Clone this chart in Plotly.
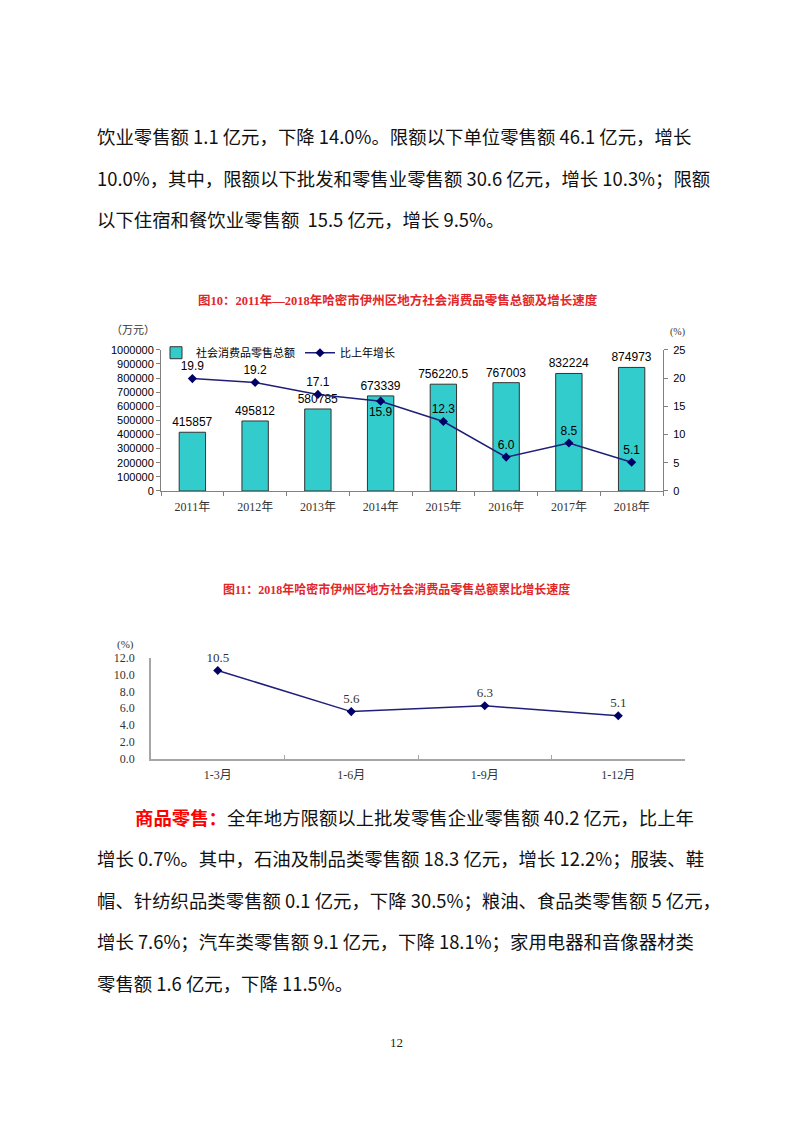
import plotly.graph_objects as go

# 图10 数据
years = ['2011年', '2012年', '2013年', '2014年', '2015年', '2016年', '2017年', '2018年']
retail_total = [415857, 495812, 580785, 673339, 756220.5, 767003, 832224, 874973]
growth = [19.9, 19.2, 17.1, 15.9, 12.3, 6.0, 8.5, 5.1]
growth_label_pos = ['top center', 'top center', 'top center', 'bottom center',
                    'top center', 'top center', 'top center', 'top center']

# 图11 数据
periods = ['1-3月', '1-6月', '1-9月', '1-12月']
cum_growth = [10.5, 5.6, 6.3, 5.1]

# 正文
para1 = [
    '饮业零售额 1.1 亿元，下降 14.0%。限额以下单位零售额 46.1 亿元，增长',
    '10.0%，其中，限额以下批发和零售业零售额 30.6 亿元，增长 10.3%；限额',
    '以下住宿和餐饮业零售额  15.5 亿元，增长 9.5%。',
]
para2 = [
    '<span style="color:#ff0000"><b>商品零售：</b></span>全年地方限额以上批发零售企业零售额 40.2 亿元，比上年',
    '增长 0.7%。其中，石油及制品类零售额 18.3 亿元，增长 12.2%；服装、鞋',
    '帽、针纺织品类零售额 0.1 亿元，下降 30.5%；粮油、食品类零售额 5 亿元，',
    '增长 7.6%；汽车类零售额 9.1 亿元，下降 18.1%；家用电器和音像器材类',
    '零售额 1.6 亿元，下降 11.5%。',
]

W, H = 793, 1122
# 页面左上有 8px 的默认边距，坐标统一减去
OX, OY = 8, 8
CJK = 'Noto Sans CJK SC'
SERIF = 'Liberation Serif, Noto Sans CJK SC'
SANS = 'Liberation Sans, Arial, Noto Sans CJK SC'
RED = '#e3262a'
NAVY = '#1f1f7a'


def px_x(v):
    return (v - OX) / W


def px_y(v):
    return 1 - (v - OY) / H


def fmt_num(v):
    return str(int(v)) if v == int(v) else str(v)


fig = go.Figure()

# 图10：柱 + 折线
fig.add_trace(go.Bar(
    x=years, y=retail_total,
    name='社会消费品零售总额',
    width=0.42,
    marker=dict(color='#33cccc', line=dict(color='#333333', width=1)),
    text=[fmt_num(v) for v in retail_total],
    textposition='outside',
    constraintext='none',
    textfont=dict(family=SANS, size=12, color='#000000'),
    cliponaxis=False,
    xaxis='x', yaxis='y',
))
fig.add_trace(go.Scatter(
    x=years, y=growth,
    name='比上年增长',
    mode='lines+markers+text',
    line=dict(color=NAVY, width=1.5),
    marker=dict(symbol='diamond', size=7, color='#000066'),
    text=[f'{v:.1f}' for v in growth],
    textposition=growth_label_pos,
    textfont=dict(family=SANS, size=12, color='#000000'),
    cliponaxis=False,
    xaxis='x', yaxis='y2',
))

# 图11：折线
fig.add_trace(go.Scatter(
    x=periods, y=cum_growth,
    mode='lines+markers+text',
    line=dict(color=NAVY, width=1.5),
    marker=dict(symbol='diamond', size=7, color='#000066'),
    text=[f'{v:.1f}' for v in cum_growth],
    textposition='top center',
    textfont=dict(family=SERIF, size=13, color='#333333'),
    cliponaxis=False,
    showlegend=False,
    xaxis='x2', yaxis='y3',
))

fig.update_layout(
    width=W, height=H,
    margin=dict(l=0, r=0, t=0, b=0),
    paper_bgcolor='white', plot_bgcolor='white',
    showlegend=True,
    legend=dict(
        orientation='h', x=px_x(156), y=px_y(350),
        xanchor='left', yanchor='middle',
        font=dict(family=CJK, size=11, color='#000000'),
        bgcolor='rgba(0,0,0,0)', itemwidth=30,
    ),
    xaxis=dict(
        domain=[px_x(161), px_x(663)], anchor='y',
        type='category', tickson='boundaries', range=[-0.5, 7.5],
        showline=True, linecolor='#808080', linewidth=1,
        ticks='outside', ticklen=4, tickcolor='#808080',
        ticklabelstandoff=5,
        tickfont=dict(family=SERIF, size=12, color='#333333'),
        showgrid=False, zeroline=False,
    ),
    yaxis=dict(
        domain=[px_y(490), px_y(347)], anchor='x',
        range=[0, 1000000], dtick=100000, tickformat='d',
        showline=True, linecolor='#808080', linewidth=1,
        ticks='outside', ticklen=4, tickcolor='#808080',
        tickfont=dict(family=SANS, size=11, color='#000000'),
        showgrid=False, zeroline=False,
    ),
    yaxis2=dict(
        overlaying='y', side='right', anchor='x',
        range=[0, 25], dtick=5,
        showline=True, linecolor='#808080', linewidth=1,
        ticks='outside', ticklen=4, tickcolor='#808080',
        ticklabelstandoff=3,
        tickfont=dict(family=SANS, size=11, color='#000000'),
        showgrid=False, zeroline=False,
    ),
    xaxis2=dict(
        domain=[px_x(151), px_x(685)], anchor='y3',
        type='category', tickson='boundaries', range=[-0.5, 3.5],
        showline=True, linecolor='#a6a6a6', linewidth=1.5,
        ticks='inside', ticklen=4, tickcolor='#a6a6a6',
        ticklabelstandoff=4,
        tickfont=dict(family=SERIF, size=12, color='#333333'),
        showgrid=False, zeroline=False,
    ),
    yaxis3=dict(
        domain=[px_y(761), px_y(659)], anchor='x2',
        range=[0, 12], dtick=2, tickformat='.1f',
        showline=True, linecolor='#a6a6a6', linewidth=1.5,
        ticks='', ticklen=0, ticklabelstandoff=12,
        tickfont=dict(family=SERIF, size=12, color='#333333'),
        showgrid=False, zeroline=False,
    ),
)

annotations = []


def add_text(text, x, y, size, color='#111111', family=CJK, xanchor='left'):
    annotations.append(dict(
        text=text, x=px_x(x), y=px_y(y), xref='paper', yref='paper',
        xanchor=xanchor, yanchor='middle', showarrow=False,
        font=dict(family=family, size=size, color=color),
    ))


# 正文段落
for i, line in enumerate(para1):
    add_text(line, 95, 131 + i * 42, 18.4)
for i, line in enumerate(para2):
    add_text(line, 133 if i == 0 else 95, 820 + i * 42, 18.4)

# 图标题与单位
add_text('<b>图10：2011年—2018年哈密市伊州区地方社会消费品零售总额及增长速度</b>',
         398, 297, 12.5, color=RED, family=SERIF, xanchor='center')
add_text('<b>图11：2018年哈密市伊州区地方社会消费品零售总额累比增长速度</b>',
         396, 590, 12, color=RED, family=SERIF, xanchor='center')
add_text('（万元）', 133, 326, 11, color='#333333', xanchor='center')
add_text('(%)', 677, 329, 10, color='#333333', family=SERIF, xanchor='center')
add_text('(%)', 125, 645, 11, color='#333333', family=SERIF, xanchor='center')

# 页码
add_text('12', 396, 1048, 13, color='#222222', family=SERIF, xanchor='center')

fig.update_layout(annotations=annotations)

fig.write_html('out.html')
